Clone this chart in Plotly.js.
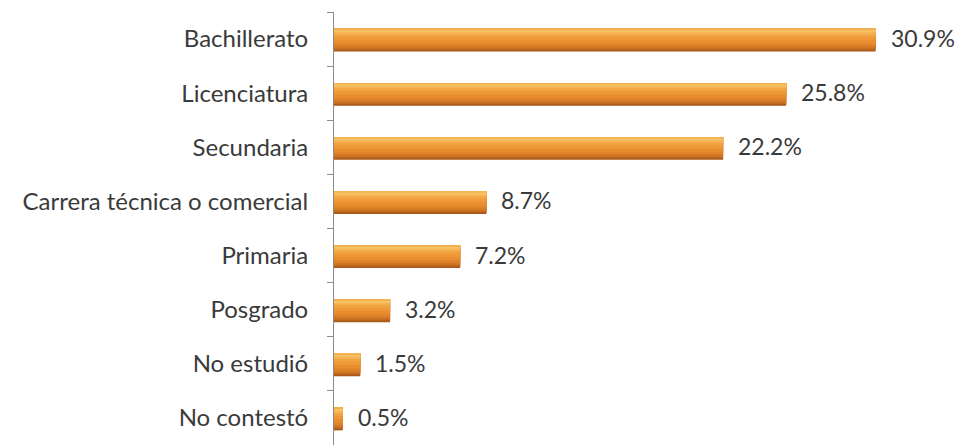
<!DOCTYPE html>
<html>
<head>
<meta charset="utf-8">
<script src="https://cdn.plot.ly/plotly-3.0.1.min.js"></script>
<style>html,body{margin:0;padding:0;background:#fff;}#chart{width:965px;height:445px;}</style>
</head>
<body>
<div id="chart"></div>
<script>
const categories = ["Bachillerato", "Licenciatura", "Secundaria", "Carrera técnica o comercial", "Primaria", "Posgrado", "No estudió", "No contestó"];
const values = [30.9, 25.8, 22.2, 8.7, 7.2, 3.2, 1.5, 0.5];
const valueLabels = ["30.9%", "25.8%", "22.2%", "8.7%", "7.2%", "3.2%", "1.5%", "0.5%"];

const FONT = "Lato, 'Open Sans', sans-serif";

// gradient simulated by stacked overlay layers (width, color), bottom edge first
const layers = [
  [0.42, '#A9591A'], [0.39, '#BF6A1F'], [0.36, '#D27824'], [0.32, '#E0842A'],
  [0.27, '#E98E30'], [0.21, '#EE9837'], [0.15, '#F2A443'], [0.10, '#F5B455'],
  [0.06, '#F8C468'], [0.03, '#F3B050']
];
const traces = layers.map(([w, c]) => ({
  type: 'bar', orientation: 'h', x: values, y: categories,
  width: w, offset: -0.19,
  marker: {color: c, line: {width: 0}},
  hoverinfo: 'skip', showlegend: false
}));

const annotations = values.map((v, i) => ({
  x: v, y: categories[i], xref: 'x', yref: 'y',
  text: valueLabels[i], showarrow: false, xanchor: 'left', yanchor: 'middle',
  xshift: 13, yshift: 1,
  font: {family: FONT, size: 23, color: '#3a3a3a'}
}));

const layout = {
  width: 965, height: 445,
  margin: {l: 334, r: 0, t: 12, b: 0},
  paper_bgcolor: '#ffffff', plot_bgcolor: '#ffffff',
  barmode: 'overlay',
  xaxis: {range: [0, 36], visible: false, fixedrange: true},
  yaxis: {
    type: 'category', categoryorder: 'array', categoryarray: categories,
    autorange: 'reversed',
    showline: true, linecolor: '#8a8a8a', linewidth: 1,
    ticks: 'outside', tickson: 'boundaries', ticklen: 6, tickcolor: '#8a8a8a',
    ticklabelstandoff: 20,
    showgrid: false, zeroline: false,
    tickfont: {family: FONT, size: 24, color: '#3a3a3a'}
  },
  annotations: annotations
};

Plotly.newPlot('chart', traces, layout, {displayModeBar: false, staticPlot: true});
</script>
</body>
</html>
